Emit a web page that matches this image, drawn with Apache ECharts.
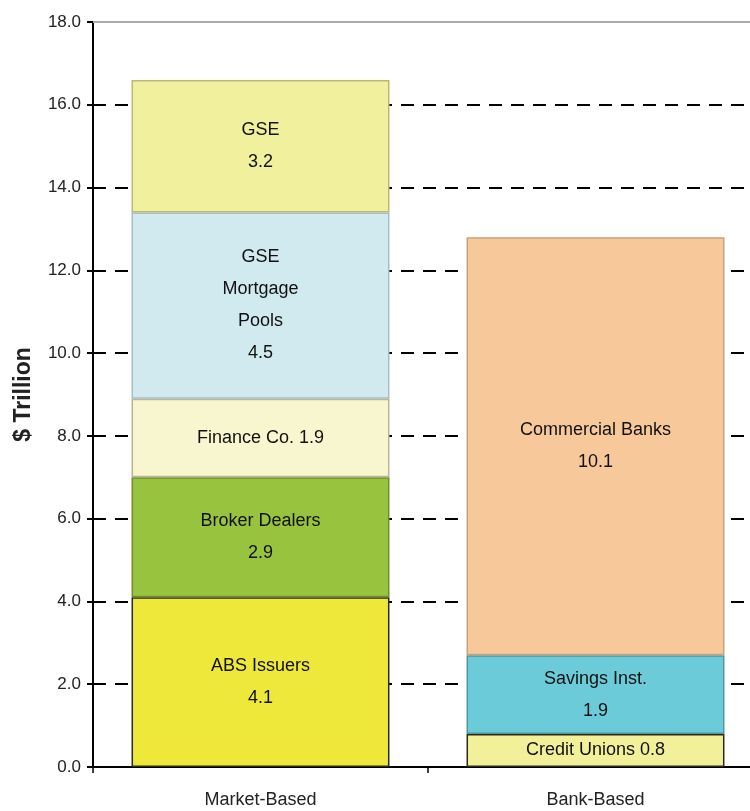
<!DOCTYPE html>
<html>
<head>
<meta charset="utf-8">
<script src="https://cdn.jsdelivr.net/npm/echarts@6/dist/echarts.min.js"></script>
<style>
  html, body { margin: 0; padding: 0; background: #fff; overflow: hidden; }
  #frame { width: 750px; height: 811px; overflow: hidden; }
  #chart { width: 763px; height: 811px; }
</style>
</head>
<body>
<div id="frame"><div id="chart"></div></div>
<script>
// Credit market holdings by sector, $ trillion
const categories = ['Market-Based', 'Bank-Based'];

// Stack segments, bottom to top
const segmentNames = ['ABS Issuers', 'Broker Dealers', 'Finance Co.', 'GSE Mortgage Pools', 'GSE',
                      'Credit Unions', 'Savings Inst.', 'Commercial Banks'];
const segmentLabels = ['ABS Issuers', 'Broker Dealers', 'Finance Co.', 'GSE\nMortgage\nPools', 'GSE',
                       'Credit Unions', 'Savings Inst.', 'Commercial Banks'];
const labelSeparators = ['\n', '\n', ' ', '\n', '\n', ' ', '\n', '\n'];
const marketBased = [4.1, 2.9, 1.9, 4.5, 3.2, null, null, null];
const bankBased   = [null, null, null, null, null, 0.8, 1.9, 10.1];

const fillColors   = ['#EDE83A', '#98C33E', '#F8F6CE', '#D1EAF0', '#F1F09C', '#F3F09A', '#6CCBD9', '#F7C899'];
const borderColors = ['#2b2b1a', '#6f8f2c', '#b8b69a', '#a9bcc2', '#b9b77a', '#2b2b1a', '#4f97a2', '#c9a27c'];

const yTicks = { min: 0, max: 18, interval: 2 };

const labelFont = "'Liberation Sans Narrow', 'Liberation Sans', Arial, sans-serif";

const series = segmentNames.map((name, i) => ({
  name: name,
  type: 'bar',
  stack: 'total',
  barWidth: '77%',
  data: [marketBased[i], bankBased[i]],
  itemStyle: { color: fillColors[i], borderColor: borderColors[i], borderWidth: 1.5 },
  label: {
    show: true,
    position: 'inside',
    color: '#111',
    fontFamily: labelFont,
    fontSize: 18,
    lineHeight: 32,
    formatter: p => segmentLabels[i] + labelSeparators[i] + p.value.toFixed(1)
  },
  emphasis: { disabled: true }
}));

const chart = echarts.init(document.getElementById('chart'), null, { renderer: 'canvas' });
chart.setOption({
  animation: false,
  backgroundColor: '#ffffff',
  grid: { left: 93, right: 0, top: 22, bottom: 44, containLabel: false },
  xAxis: [{
    type: 'category',
    data: categories,
    boundaryGap: true,
    axisLine: { lineStyle: { color: '#000', width: 2 } },
    axisTick: { show: true, length: 6, lineStyle: { color: '#000', width: 1.5 } },
    axisLabel: { color: '#222', fontFamily: labelFont, fontSize: 18, margin: 24 }
  }, {
    type: 'category',
    data: categories,
    position: 'top',
    axisLine: { lineStyle: { color: '#aaa', width: 2 } },
    axisTick: { show: false },
    axisLabel: { show: false }
  }],
  yAxis: {
    type: 'value',
    min: yTicks.min,
    max: yTicks.max,
    interval: yTicks.interval,
    name: '$ Trillion',
    nameLocation: 'middle',
    nameGap: 58,
    nameTextStyle: { color: '#222', fontFamily: "'Liberation Sans', Arial, sans-serif", fontSize: 23, fontWeight: 'bold' },
    axisLine: { show: true, lineStyle: { color: '#000', width: 2 } },
    axisTick: { show: true, length: 6, lineStyle: { color: '#000', width: 2 } },
    axisLabel: {
      color: '#222',
      fontFamily: labelFont,
      fontSize: 17,
      margin: 12,
      formatter: v => v.toFixed(1)
    },
    splitLine: {
      show: true,
      lineStyle: { color: '#000', width: 2, type: [13, 9] }
    }
  },
  series: series
});
</script>
</body>
</html>
